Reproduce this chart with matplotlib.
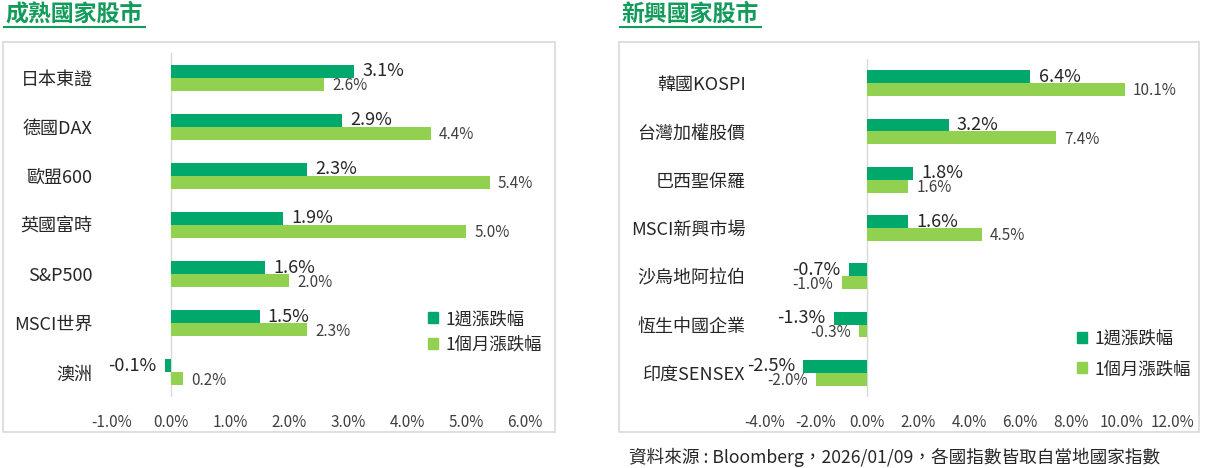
import matplotlib
matplotlib.use("Agg")
from matplotlib import pyplot as plt
from matplotlib.patches import Rectangle, Patch
from matplotlib.lines import Line2D
import numpy as np

plt.rcParams['font.family'] = ['Noto Sans CJK TC', 'DejaVu Sans']

# 成熟國家股市
dev_names = ["日本東證", "德國DAX", "歐盟600", "英國富時", "S&P500", "MSCI世界", "澳洲"]
dev_week = [3.1, 2.9, 2.3, 1.9, 1.6, 1.5, -0.1]
dev_month = [2.6, 4.4, 5.4, 5.0, 2.0, 2.3, 0.2]
dev_ticks = [-1, 0, 1, 2, 3, 4, 5, 6]

# 新興國家股市
emg_names = ["韓國KOSPI", "台灣加權股價", "巴西聖保羅", "MSCI新興市場", "沙烏地阿拉伯", "恆生中國企業", "印度SENSEX"]
emg_week = [6.4, 3.2, 1.8, 1.6, -0.7, -1.3, -2.5]
emg_month = [10.1, 7.4, 1.6, 4.5, -1.0, -0.3, -2.0]
emg_ticks = [-4, -2, 0, 2, 4, 6, 8, 10, 12]

legend_labels = ["1週漲跌幅", "1個月漲跌幅"]
source = "資料來源 : Bloomberg，2026/01/09，各國指數皆取自當地國家指數"

W, H = 1207, 468
C_WEEK = "#00a86b"
C_MONTH = "#92d050"
C_TITLE = "#139b5b"
C_TEXT = "#262626"
C_GRAY = "#d9d9d9"

fig = plt.figure(figsize=(W / 100, H / 100), dpi=100)


def fx(px):
    return px / W


def fy(py):
    return 1 - py / H


def panel(x0, x1, top, bottom, names, week, month, ticks, title, tx0, tx1,
          box, leg_xy, leg_space):
    ax = fig.add_axes([fx(x0), fy(bottom), fx(x1) - fx(x0), (bottom - top) / H])
    y = np.arange(len(names))
    h = 0.265
    ax.barh(y - h / 2, week, height=h, color=C_WEEK, label=legend_labels[0])
    ax.barh(y + h / 2, month, height=h, color=C_MONTH, label=legend_labels[1])
    ax.axvline(0, color=C_GRAY, lw=1, zorder=0)
    ax.set_xlim(ticks[0], ticks[-1])
    ax.set_ylim(len(names) - 0.5, -0.5)
    ax.set_xticks(ticks)
    ax.set_xticklabels(["%.1f%%" % t for t in ticks])
    ax.set_yticks(y)
    ax.set_yticklabels(names, fontweight="medium")
    ax.tick_params(axis='x', length=0, pad=12, labelsize=11, labelcolor="#404040")
    ax.tick_params(axis='y', length=0, pad=14, labelsize=13, labelcolor=C_TEXT)
    for s in ax.spines.values():
        s.set_visible(False)
    for i in range(len(names)):
        for val, yy, fs, col, fw in ((week[i], y[i] - h / 2, 13, C_TEXT, "medium"),
                                      (month[i], y[i] + h / 2 + 0.03, 11, "#404040", "normal")):
            off = 6 if val >= 0 else -6
            ax.annotate("%.1f%%" % val, (val, yy), xytext=(off, 0),
                        textcoords="offset points", va="center",
                        ha="left" if val >= 0 else "right",
                        fontsize=fs, color=col, fontweight=fw)
    # title with underline
    fig.text(fx(tx0), fy(14), title, fontsize=16.5, fontweight="bold",
             color=C_TITLE, ha="left", va="center")
    fig.add_artist(Line2D([fx(tx0 - 1), fx(tx1)], [fy(27), fy(27)],
                          color=C_TITLE, lw=1.5))
    # panel frame
    fig.add_artist(Rectangle((fx(box[0]), fy(box[3])), fx(box[2]) - fx(box[0]),
                             (box[3] - box[1]) / H, fill=False,
                             edgecolor=C_GRAY, lw=1.2))
    handles = [Patch(color=C_WEEK), Patch(color=C_MONTH)]
    fig.legend(handles, legend_labels, loc="center left",
               bbox_to_anchor=(fx(leg_xy[0]), fy(leg_xy[1])), frameon=False,
               fontsize=12.5, handlelength=0.6, handleheight=0.6,
               handletextpad=0.4, labelspacing=leg_space, borderpad=0,
               borderaxespad=0, labelcolor=C_TEXT)
    return ax


panel(112, 525, 53, 397, dev_names, dev_week, dev_month, dev_ticks,
      "成熟國家股市", 5, 145, (3, 42, 555, 432), (428, 332), 0.45)
panel(765, 1173, 59, 397, emg_names, emg_week, emg_month, emg_ticks,
      "新興國家股市", 621, 761, (619, 42, 1199, 432), (1077, 354), 0.7)

fig.text(fx(629), fy(457), source, fontsize=12.7, color=C_TEXT, ha="left", va="center")

fig.savefig("out.png", dpi=100)
